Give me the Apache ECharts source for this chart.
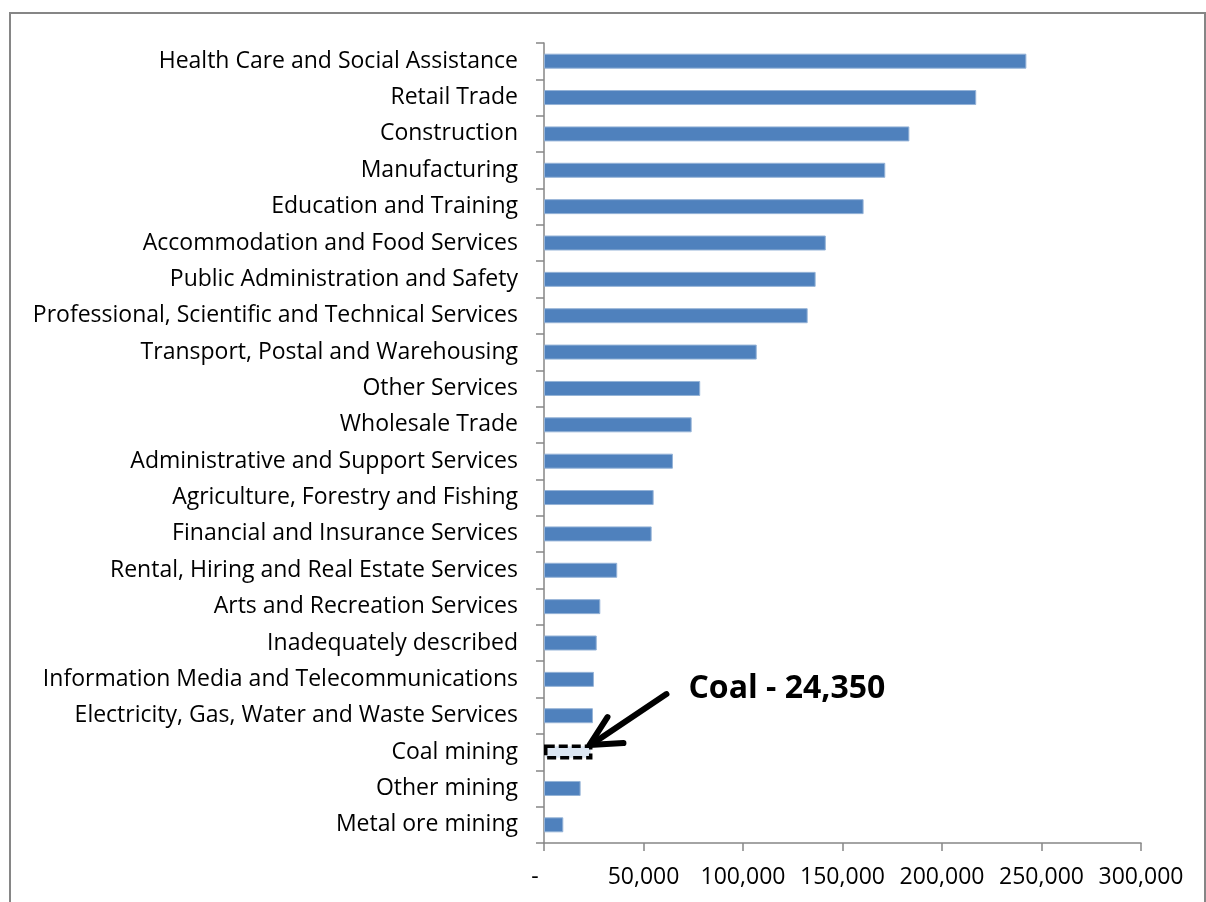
<!DOCTYPE html>
<html>
<head>
<meta charset="utf-8">
<script src="https://cdn.jsdelivr.net/npm/echarts@6/dist/echarts.min.js"></script>
<style>
html,body{margin:0;padding:0;background:#fff;}
#chart{width:1206px;height:902px;}
</style>
</head>
<body>
<div id="chart"></div>
<script>
const categories = [
  "Health Care and Social Assistance",
  "Retail Trade",
  "Construction",
  "Manufacturing",
  "Education and Training",
  "Accommodation and Food Services",
  "Public Administration and Safety",
  "Professional, Scientific and Technical Services",
  "Transport, Postal and Warehousing",
  "Other Services",
  "Wholesale Trade",
  "Administrative and Support Services",
  "Agriculture, Forestry and Fishing",
  "Financial and Insurance Services",
  "Rental, Hiring and Real Estate Services",
  "Arts and Recreation Services",
  "Inadequately described",
  "Information Media and Telecommunications",
  "Electricity, Gas, Water and Waste Services",
  "Coal mining",
  "Other mining",
  "Metal ore mining"
];
const employment = [
  242400, 217200, 183600, 171500, 160600, 141600, 136500, 132500, 106900,
  78500, 74200, 64800, 55100, 54100, 36800, 28300, 26500, 25100, 24600,
  24350, 18400, 9700
];
const highlightCategory = "Coal mining";
const annotationText = "Coal - 24,350";
const xTicks = { min: 0, max: 300000, interval: 50000 };

const FONT = "Open Sans";
const chart = echarts.init(document.getElementById('chart'), null, {renderer: 'canvas'});

const barData = employment.map((v, i) => {
  if (categories[i] === highlightCategory) {
    return {
      value: v,
      itemStyle: {
        color: '#dce6f2',
        borderColor: '#000',
        borderWidth: 3.5,
        borderType: [9, 4]
      }
    };
  }
  return v;
});

function fmt(v) {
  if (v === 0) return '-   ';
  return v.toString().replace(/\B(?=(\d{3})+(?!\d))/g, ',');
}

chart.setOption({
  animation: false,
  backgroundColor: '#fff',
  grid: { left: 544, right: 65, top: 43, bottom: 59, containLabel: false },
  xAxis: {
    type: 'value',
    min: xTicks.min, max: xTicks.max, interval: xTicks.interval,
    splitLine: { show: false },
    axisLine: { show: true, lineStyle: { color: '#868686', width: 1.5 } },
    axisTick: { show: true, length: 8, lineStyle: { color: '#868686', width: 1.5 } },
    axisLabel: { margin: 23, color: '#000', fontFamily: FONT, fontSize: 23, formatter: fmt }
  },
  yAxis: {
    type: 'category',
    data: categories,
    inverse: true,
    axisLine: { show: true, lineStyle: { color: '#868686', width: 1.5 } },
    axisTick: { show: true, length: 8, alignWithLabel: false, lineStyle: { color: '#868686', width: 1.5 } },
    axisLabel: { margin: 26, color: '#000', fontFamily: FONT, fontSize: 23, interval: 0 }
  },
  series: [{
    type: 'bar',
    data: barData,
    barWidth: 15,
    itemStyle: { color: '#4f81bd', borderColor: '#95b3d7', borderWidth: 1 }
  }]
});

const ci = categories.indexOf(highlightCategory);
const tip0 = chart.convertToPixel({ gridIndex: 0 }, [employment[ci], categories[ci]]);
const tip = [tip0[0] - 3, tip0[1] - 7];
chart.setOption({
  graphic: [
    {
      type: 'rect', silent: true,
      shape: { x: 10, y: 13, width: 1195, height: 1000 },
      style: { fill: null, stroke: '#868686', lineWidth: 2 }
    },
    {
      type: 'line', silent: true,
      shape: { x1: tip[0] + 77, y1: tip[1] - 51, x2: tip[0] + 4, y2: tip[1] - 2 },
      style: { stroke: '#000', lineWidth: 6, lineCap: 'round' }
    },
    {
      type: 'polyline', silent: true,
      shape: { points: [[tip[0] + 18, tip[1] - 28], tip, [tip[0] + 34, tip[1] - 2]] },
      style: { stroke: '#000', lineWidth: 6, fill: null, lineCap: 'round', lineJoin: 'round' }
    },
    {
      type: 'text', silent: true,
      x: tip[0] + 99, y: tip[1] - 56,
      style: { text: annotationText, font: 'bold 32px "Open Sans"', fill: '#000', textVerticalAlign: 'middle', verticalAlign: 'middle' }
    }
  ]
});
</script>
</body>
</html>
